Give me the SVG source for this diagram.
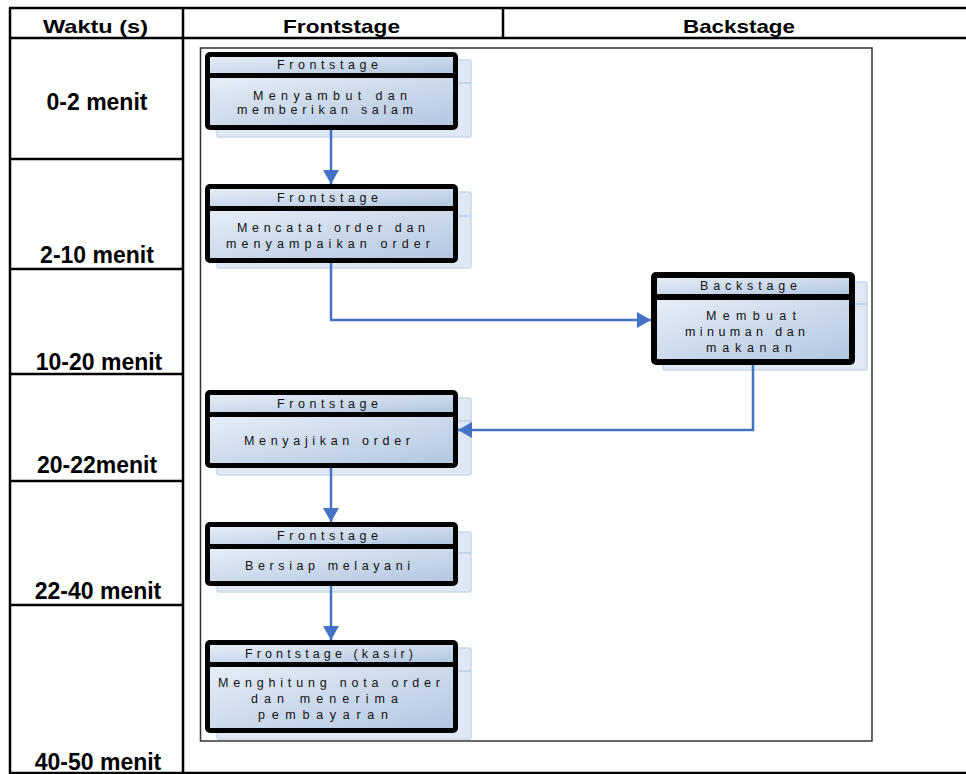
<svg xmlns="http://www.w3.org/2000/svg" width="966" height="774" viewBox="0 0 966 774">
<defs>
<linearGradient id="g" x1="0" y1="0" x2="1" y2="1">
<stop offset="0" stop-color="#e6edf7"/>
<stop offset="1" stop-color="#b3c7e1"/>
</linearGradient>
<marker id="ah" markerUnits="userSpaceOnUse" markerWidth="18" markerHeight="18" refX="14" refY="8" orient="auto">
<path d="M0,0 L14,8 L0,16 Z" fill="#4472c4"/>
</marker>
<style>
.tl{stroke:#000;stroke-width:2.5;fill:none}
.hd{font-family:"Liberation Sans",Arial,sans-serif;font-weight:bold;font-size:19px;fill:#000;text-anchor:middle}
.lb{font-family:"Liberation Sans",Arial,sans-serif;font-weight:bold;font-size:23px;fill:#000;text-anchor:middle}
.sh{fill:#dfe8f4;stroke:#c9d8ec;stroke-width:1.5}
.shl{stroke:#b8cce6;stroke-width:1.5}
.ob{fill:#000}
.bd{fill:url(#g)}
.nt{font-family:"Liberation Sans",Arial,sans-serif;font-size:12.5px;fill:#111;text-anchor:middle}
.cn{fill:none;stroke:#4472c4;stroke-width:2.5}
</style>
</defs>
<rect width="966" height="774" fill="#fff"/>
<g id="table">
<line class="tl" x1="9" y1="8" x2="966" y2="8"/>
<line class="tl" x1="9" y1="38" x2="966" y2="38"/>
<line class="tl" x1="9" y1="773" x2="966" y2="773"/>
<line class="tl" x1="10" y1="8" x2="10" y2="774"/>
<line class="tl" x1="183" y1="8" x2="183" y2="774"/>
<line class="tl" x1="503" y1="8" x2="503" y2="38"/>
<line class="tl" x1="10" y1="159" x2="183" y2="159"/>
<line class="tl" x1="10" y1="269" x2="183" y2="269"/>
<line class="tl" x1="10" y1="374" x2="183" y2="374"/>
<line class="tl" x1="10" y1="481" x2="183" y2="481"/>
<line class="tl" x1="10" y1="605" x2="183" y2="605"/>
<text class="hd" x="95.5" y="33" textLength="105" lengthAdjust="spacingAndGlyphs">Waktu (s)</text>
<text class="hd" x="341.5" y="33" textLength="117" lengthAdjust="spacingAndGlyphs">Frontstage</text>
<text class="hd" x="739" y="33" textLength="112" lengthAdjust="spacingAndGlyphs">Backstage</text>
<text class="lb" x="97" y="110">0-2 menit</text>
<text class="lb" x="97" y="263">2-10 menit</text>
<text class="lb" x="99" y="370">10-20 menit</text>
<text class="lb" x="97" y="473">20-22menit</text>
<text class="lb" x="98" y="599">22-40 menit</text>
<text class="lb" x="98" y="770">40-50 menit</text>
</g>
<rect id="frame" x="200.5" y="48" width="671.5" height="693" fill="none" stroke="#333" stroke-width="1.5"/>
<g id="n1">
<rect class="sh" x="217" y="60" width="254" height="77" rx="2"/>
<line class="shl" x1="458" y1="83" x2="471" y2="83"/>
<rect class="ob" x="205" y="52" width="253" height="78" rx="5"/>
<rect class="bd" x="210" y="57" width="243" height="16"/>
<rect class="bd" x="210" y="78" width="243" height="47"/>
<text class="nt" x="327.5" y="68.5" textLength="101" lengthAdjust="spacing">Frontstage</text>
<text class="nt" x="330" y="100" textLength="154" lengthAdjust="spacing">Menyambut dan</text>
<text class="nt" x="325" y="114" textLength="176" lengthAdjust="spacing">memberikan salam</text>
</g>
<g id="n2">
<rect class="sh" x="217" y="192" width="254" height="76" rx="2"/>
<line class="shl" x1="458" y1="216" x2="471" y2="216"/>
<rect class="ob" x="205" y="184" width="253" height="79" rx="5"/>
<rect class="bd" x="210" y="189" width="243" height="17"/>
<rect class="bd" x="210" y="211" width="243" height="47"/>
<text class="nt" x="327.5" y="202" textLength="101" lengthAdjust="spacing">Frontstage</text>
<text class="nt" x="331" y="232" textLength="188" lengthAdjust="spacing">Mencatat order dan</text>
<text class="nt" x="328" y="248" textLength="204" lengthAdjust="spacing">menyampaikan order</text>
</g>
<g id="n3">
<rect class="sh" x="663" y="282" width="204" height="88" rx="2"/>
<line class="shl" x1="855" y1="304" x2="867" y2="304"/>
<rect class="ob" x="651" y="272" width="204" height="93" rx="5"/>
<rect class="bd" x="657" y="278" width="192" height="16"/>
<rect class="bd" x="657" y="300" width="192" height="59"/>
<text class="nt" x="748.5" y="289.5" textLength="97" lengthAdjust="spacing">Backstage</text>
<text class="nt" x="751" y="320" textLength="90" lengthAdjust="spacing">Membuat</text>
<text class="nt" x="745" y="336" textLength="120" lengthAdjust="spacing">minuman dan</text>
<text class="nt" x="749" y="352" textLength="86" lengthAdjust="spacing">makanan</text>
</g>
<g id="n4">
<rect class="sh" x="217" y="398" width="254" height="77" rx="2"/>
<line class="shl" x1="458" y1="421" x2="471" y2="421"/>
<rect class="ob" x="205" y="390" width="253" height="78" rx="5"/>
<rect class="bd" x="210" y="395" width="243" height="17"/>
<rect class="bd" x="210" y="417" width="243" height="46"/>
<text class="nt" x="327.5" y="407.5" textLength="101" lengthAdjust="spacing">Frontstage</text>
<text class="nt" x="327" y="445" textLength="166" lengthAdjust="spacing">Menyajikan order</text>
</g>
<g id="n5">
<rect class="sh" x="217" y="532" width="254" height="60" rx="2"/>
<line class="shl" x1="458" y1="553" x2="471" y2="553"/>
<rect class="ob" x="205" y="522" width="253" height="64" rx="5"/>
<rect class="bd" x="210" y="527" width="243" height="17"/>
<rect class="bd" x="210" y="549" width="243" height="32"/>
<text class="nt" x="327.5" y="540" textLength="101" lengthAdjust="spacing">Frontstage</text>
<text class="nt" x="327.5" y="569.5" textLength="165" lengthAdjust="spacing">Bersiap melayani</text>
</g>
<g id="n6">
<rect class="sh" x="217" y="648" width="254" height="91" rx="2"/>
<line class="shl" x1="458" y1="671" x2="471" y2="671"/>
<rect class="ob" x="205" y="640" width="253" height="93" rx="5"/>
<rect class="bd" x="210" y="645" width="243" height="17"/>
<rect class="bd" x="210" y="667" width="243" height="61"/>
<text class="nt" x="329" y="658" textLength="168" lengthAdjust="spacing">Frontstage (kasir)</text>
<text class="nt" x="329" y="687" textLength="222" lengthAdjust="spacing">Menghitung nota order</text>
<text class="nt" x="324.5" y="703" textLength="147" lengthAdjust="spacing">dan menerima</text>
<text class="nt" x="323" y="719" textLength="130" lengthAdjust="spacing">pembayaran</text>
</g>
<g id="connectors">
<path class="cn" d="M331,130 V184" marker-end="url(#ah)"/>
<path class="cn" d="M331,263 V320 H651" marker-end="url(#ah)"/>
<path class="cn" d="M753,365 V430 H458" marker-end="url(#ah)"/>
<path class="cn" d="M331,468 V522" marker-end="url(#ah)"/>
<path class="cn" d="M331,586 V640" marker-end="url(#ah)"/>
</g>
</svg>
